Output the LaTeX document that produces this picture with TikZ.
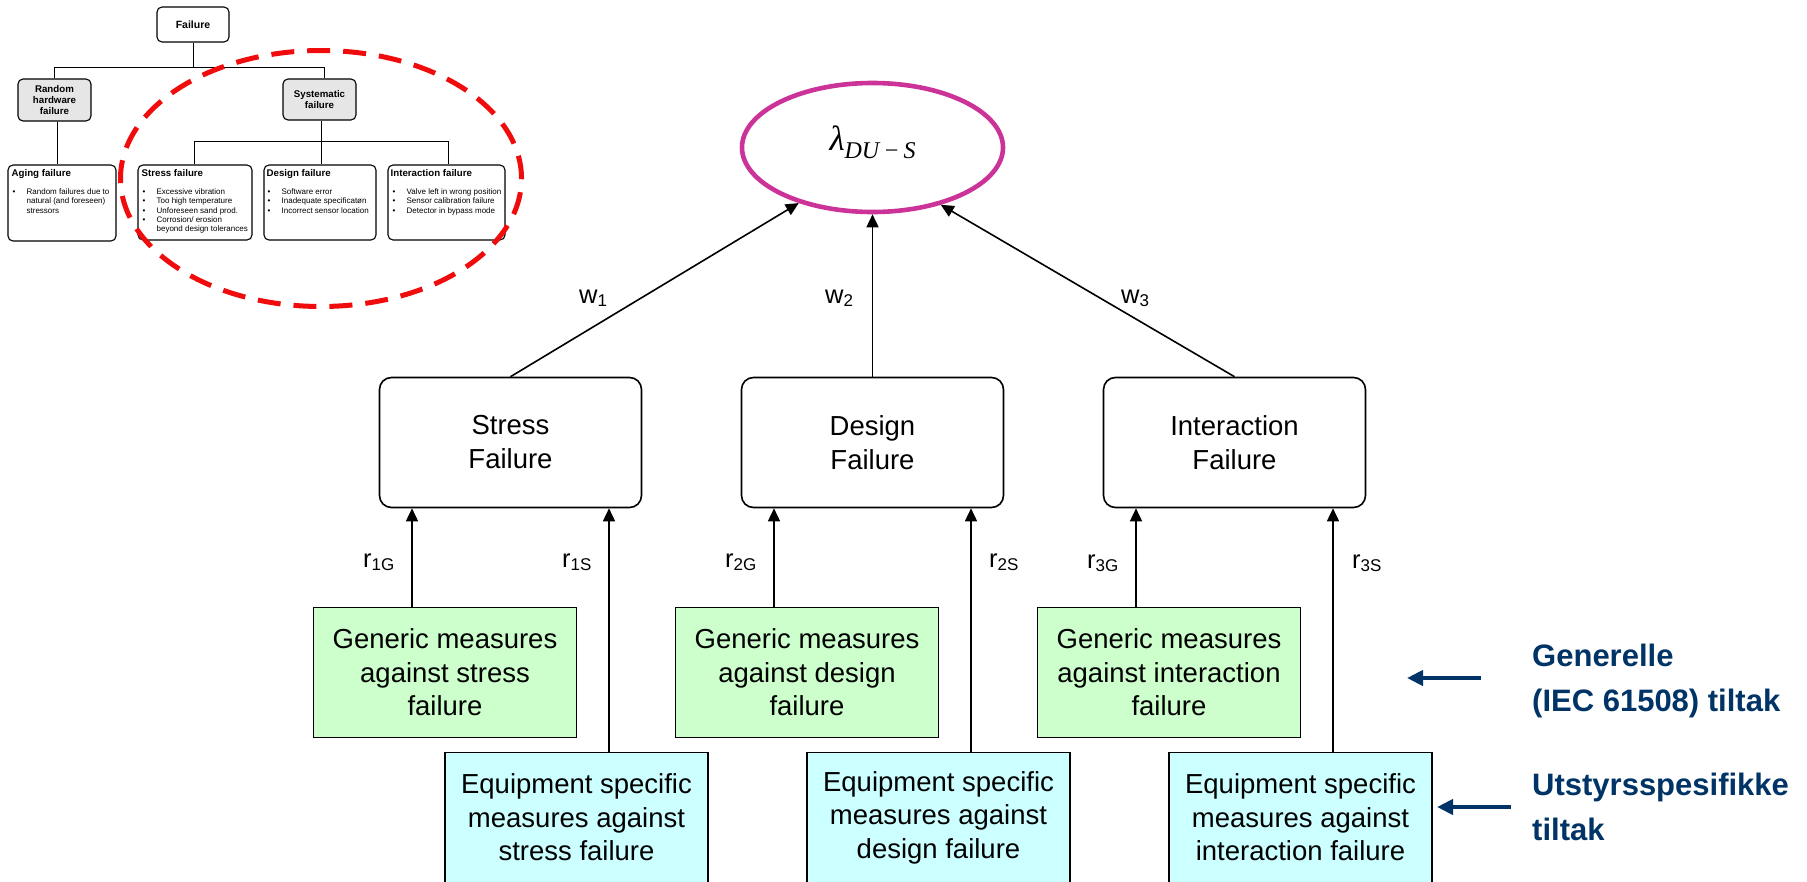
\documentclass[tikz,border=0pt]{standalone}
\usepackage{fontspec}
\setmainfont{Liberation Sans}
\newfontfamily\serifface{Liberation Serif}
\usetikzlibrary{arrows.meta,shapes.geometric}

\definecolor{ellpink}{RGB}{204,51,153}
\definecolor{genfill}{RGB}{204,255,204}
\definecolor{eqfill}{RGB}{204,255,255}
\definecolor{treegray}{RGB}{230,230,230}
\definecolor{navy}{RGB}{0,51,102}
\definecolor{ringred}{RGB}{240,12,12}

% bullet item and continuation line for the small tree boxes
\newcommand\bul{\makebox[15pt][l]{\hspace{1pt}\textbullet}}
\newcommand\ind{\hspace*{15pt}}
% label with lowered subscript
\newcommand\lab[2]{#1\raisebox{-3.5pt}{\fontsize{17}{17}\selectfont #2}}

\begin{document}
\begin{tikzpicture}[x=1pt,y=-1pt,
  every node/.style={inner sep=0pt},
  failbox/.style={draw, line width=1.6pt, rounded corners=12pt, minimum width=262pt,
    minimum height=130pt, align=center, font=\fontsize{27.5}{34}\selectfont},
  measbox/.style={draw, line width=1.4pt, minimum width=263pt, minimum height=130pt,
    align=center, font=\fontsize{27.5}{33.5}\selectfont},
  genbox/.style={measbox, fill=genfill},
  eqbox/.style={measbox, fill=eqfill},
  arr/.style={-{Triangle[length=13pt,width=12pt]}, line width=1.6pt},
  wlab/.style={anchor=base west, font=\fontsize{25.5}{30}\selectfont},
  tbox/.style={draw, line width=1.1pt, rounded corners=5pt},
  tline/.style={line width=1pt},
  ttitle/.style={anchor=base west, font=\bfseries\fontsize{9.7}{11}\selectfont},
  tlist/.style={anchor=base west, font=\fontsize{8}{9.3}\selectfont},
  note/.style={anchor=base west, text=navy, font=\bfseries\fontsize{31}{45}\selectfont},
  notearr/.style={draw=navy, line width=4.5pt, -{Triangle[length=16pt,width=15pt]}},
  ring/.style={draw=ringred, line width=5pt, dash pattern=on 23pt off 13pt}
]
\useasboundingbox (0,0) rectangle (1807,881);

% ---------- failure taxonomy tree ----------
\node[tbox, minimum width=72pt, minimum height=35pt,
  font=\bfseries\fontsize{10.5}{12}\selectfont] (fail) at (193,24.5) {Failure};
\node[tbox, fill=treegray, minimum width=73pt, minimum height=42pt, align=center,
  font=\bfseries\fontsize{9.7}{11.2}\selectfont] (rand) at (54.5,100) {Random\\hardware\\failure};
\node[tbox, fill=treegray, minimum width=73pt, minimum height=41pt, align=center,
  font=\bfseries\fontsize{9.7}{11.6}\selectfont] (syst) at (319.5,99.5) {Systematic\\failure};

\node[tbox, minimum width=108pt, minimum height=76pt] (aging) at (62,203) {};
\node[tbox, minimum width=114pt, minimum height=75pt] (stf) at (195,202.5) {};
\node[tbox, minimum width=112pt, minimum height=75pt] (desf) at (320,202.5) {};
\node[tbox, minimum width=117pt, minimum height=75pt] (inf) at (446.5,202.5) {};

\node[ttitle] (agingT) at ([xshift=4pt,yshift=-12pt]aging.north west) {Aging failure};
\node[tlist] (agingL) at ([xshift=4pt,yshift=-30pt]aging.north west)
  {\begin{tabular}[t]{@{}l@{}}\bul Random failures due to\\\ind natural (and foreseen)\\\ind stressors\end{tabular}};

\node[ttitle] (stfT) at ([xshift=4pt,yshift=-12pt]stf.north west) {Stress failure};
\node[tlist] (stfL) at ([xshift=4pt,yshift=-30pt]stf.north west)
  {\begin{tabular}[t]{@{}l@{}}\bul Excessive vibration\\\bul Too high temperature\\\bul Unforeseen sand prod.\\\bul Corrosion/ erosion\\\ind beyond design tolerances\end{tabular}};

\node[ttitle] (desfT) at ([xshift=3pt,yshift=-12pt]desf.north west) {Design failure};
\node[tlist] (desfL) at ([xshift=3pt,yshift=-30pt]desf.north west)
  {\begin{tabular}[t]{@{}l@{}}\bul Software error\\\bul Inadequate specificatøn\\\bul Incorrect sensor location\end{tabular}};

\node[ttitle] (infT) at ([xshift=3pt,yshift=-12pt]inf.north west) {Interaction failure};
\node[tlist] (infL) at ([xshift=4pt,yshift=-30pt]inf.north west)
  {\begin{tabular}[t]{@{}l@{}}\bul Valve left in wrong position\\\bul Sensor calibration failure\\\bul Detector in bypass mode\end{tabular}};

\coordinate (busA) at (0,67);
\coordinate (busB) at (0,141);
\draw[tline] (fail.south) -- (fail.south |- busA);
\draw[tline] (rand.north) -- (rand.north |- busA) -- ([xshift=5pt]syst.north |- busA) -- ([xshift=5pt]syst.north);
\draw[tline] ([xshift=2.5pt]rand.south) -- ([xshift=2.5pt]rand.south |- aging.north);
\draw[tline] ([xshift=1.5pt]syst.south) -- ([xshift=1.5pt]syst.south |- desf.north);
\draw[tline] ([xshift=-1pt]stf.north) -- ([xshift=-1pt]stf.north |- busB) -- ([xshift=1.5pt]inf.north |- busB) -- ([xshift=1.5pt]inf.north);

% dashed ring around the systematic branch
\draw[ring] (321,178.5) ellipse [x radius=200.5pt, y radius=128pt];

% ---------- weighted model ----------
\node[draw=ellpink, line width=4.6pt, ellipse, minimum width=261pt, minimum height=129pt] (lam) at (872.5,147.5) {};
\node (lamtxt) at ([yshift=5pt]lam.center)
  {\serifface\itshape\fontsize{35}{40}\selectfont λ\raisebox{-8pt}{\fontsize{24}{24}\selectfont DU\,−\,S}};

\node[failbox] (sf) at (510.5,442.5) {Stress\\Failure};
\node[failbox] (df) at (872.5,442.5) {Design\\Failure};
\node[failbox] (intf) at (1234.5,442.5) {Interaction\\Failure};

\node[genbox] (g1) at (445,672.5) {Generic measures\\against stress\\failure};
\node[genbox] (g2) at (807,672.5) {Generic measures\\against design\\failure};
\node[genbox] (g3) at (1169,672.5) {Generic measures\\against interaction\\failure};

\node[eqbox] (e1) at (576.5,817.5) {Equipment specific\\measures against\\stress failure};
\node[eqbox] (e2) at (938.5,817.5) {Equipment specific\\measures against\\design failure};
\node[eqbox] (e3) at (1300.5,817.5) {Equipment specific\\measures against\\interaction failure};

\draw[arr] (sf.north) -- (lam.217);
\draw[arr] (df.north) -- (lam.south);
\draw[arr] (intf.north) -- (lam.320);

\draw[arr] ([xshift=-33pt]g1.north) -- ([xshift=-33pt]g1.north |- sf.south);
\draw[arr] ([xshift=32.5pt]e1.north) -- ([xshift=32.5pt]e1.north |- sf.south);
\draw[arr] ([xshift=-33pt]g2.north) -- ([xshift=-33pt]g2.north |- df.south);
\draw[arr] ([xshift=32.5pt]e2.north) -- ([xshift=32.5pt]e2.north |- df.south);
\draw[arr] ([xshift=-33pt]g3.north) -- ([xshift=-33pt]g3.north |- intf.south);
\draw[arr] ([xshift=32.5pt]e3.north) -- ([xshift=32.5pt]e3.north |- intf.south);

\node[wlab] (w1) at (579,303) {\lab{w}{1}};
\node[wlab] (w2) at (825,303) {\lab{w}{2}};
\node[wlab] (w3) at (1121,303) {\lab{w}{3}};
\node[wlab] (r1g) at (363,567) {\lab{r}{1G}};
\node[wlab] (r1s) at (562,567) {\lab{r}{1S}};
\node[wlab] (r2g) at (725,567) {\lab{r}{2G}};
\node[wlab] (r2s) at (989,567) {\lab{r}{2S}};
\node[wlab] (r3g) at (1087,568) {\lab{r}{3G}};
\node[wlab] (r3s) at (1352,568) {\lab{r}{3S}};

% ---------- legend on the right ----------
\node[note] (gen) at (1532,666) {\begin{tabular}[t]{@{}l@{}}Generelle\\(IEC 61508) tiltak\end{tabular}};
\node[note] (spec) at (1532,795) {\begin{tabular}[t]{@{}l@{}}Utstyrsspesifikke\\tiltak\end{tabular}};
\coordinate (genTail) at (1481,678);
\coordinate (genHead) at (1407,678);
\coordinate (specTail) at (1511,807);
\coordinate (specHead) at (1437,807);
\draw[notearr] (genTail) -- (genHead);
\draw[notearr] (specTail) -- (specHead);
\end{tikzpicture}
\end{document}
